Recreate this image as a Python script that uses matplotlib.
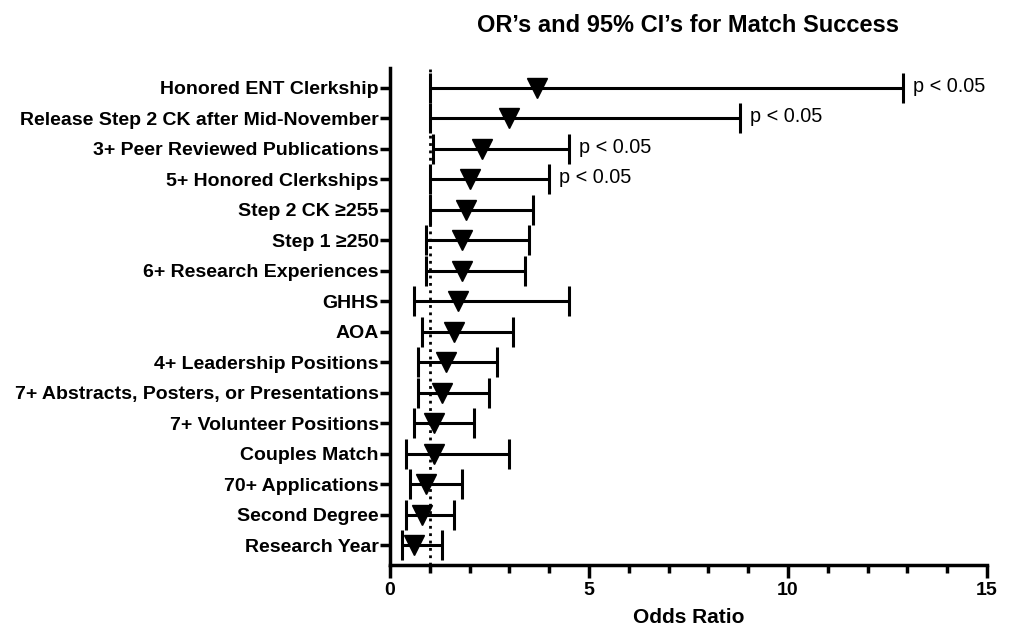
import matplotlib
matplotlib.use("Agg")
import matplotlib.pyplot as plt
import numpy as np

plt.rcParams["font.family"] = ["Liberation Sans", "DejaVu Sans"]

# factors, top to bottom
factors = [
    "Honored ENT Clerkship",
    "Release Step 2 CK after Mid-November",
    "3+ Peer Reviewed Publications",
    "5+ Honored Clerkships",
    "Step 2 CK \u2265255",
    "Step 1 \u2265250",
    "6+ Research Experiences",
    "GHHS",
    "AOA",
    "4+ Leadership Positions",
    "7+ Abstracts, Posters, or Presentations",
    "7+ Volunteer Positions",
    "Couples Match",
    "70+ Applications",
    "Second Degree",
    "Research Year",
]
odds_ratio = [3.7, 3.0, 2.3, 2.0, 1.9, 1.8, 1.8, 1.7, 1.6, 1.4, 1.3, 1.1, 1.1, 0.9, 0.8, 0.6]
ci_low = [1.0, 1.0, 1.08, 1.0, 1.0, 0.9, 0.9, 0.6, 0.8, 0.7, 0.7, 0.6, 0.4, 0.5, 0.4, 0.3]
ci_high = [12.9, 8.8, 4.5, 4.0, 3.6, 3.5, 3.4, 4.5, 3.1, 2.7, 2.5, 2.1, 3.0, 1.8, 1.6, 1.3]
significant = [True, True, True, True] + [False] * 12

fig = plt.figure(figsize=(10.09, 6.29), dpi=100)
ax = fig.add_axes([0.3865, 0.1017, 0.5917, 0.7903])

y = np.arange(len(factors))
or_arr = np.array(odds_ratio)
err = [or_arr - np.array(ci_low), np.array(ci_high) - or_arr]

ax.errorbar(odds_ratio, y, xerr=err, fmt="none", ecolor="black",
            elinewidth=2.2, capsize=11, capthick=2.2, zorder=2)
ax.plot(odds_ratio, y, "v", color="black", markersize=14.5, zorder=3)

ax.axvline(1, color="black", linestyle=":", linewidth=2, zorder=1)

for yi, hi, sig in zip(y, ci_high, significant):
    if sig:
        ax.annotate("p < 0.05", (hi, yi), xytext=(7, 1), textcoords="offset points",
                    va="center", ha="left", fontsize=14.3)

ax.set_xlim(0, 15)
ax.set_ylim(len(factors) - 0.35, -0.65)
ax.set_yticks(y)
ax.set_yticklabels(factors, fontsize=14, fontweight="bold")
ax.set_xticks([0, 5, 10, 15])
ax.set_xticks(np.arange(0, 16, 1), minor=True)
ax.set_xticklabels(["0", "5", "10", "15"], fontsize=14, fontweight="bold")

ax.spines["top"].set_visible(False)
ax.spines["right"].set_visible(False)
ax.spines["left"].set_linewidth(2.5)
ax.spines["bottom"].set_linewidth(2.5)
ax.tick_params(axis="x", which="major", length=9, width=2.5, pad=3)
ax.tick_params(axis="x", which="minor", length=6, width=2.5)
ax.tick_params(axis="y", length=7, width=2.5, pad=1)

ax.set_xlabel("Odds Ratio", fontsize=15, fontweight="bold", labelpad=7)
ax.set_title("OR\u2019s and 95% CI\u2019s for Match Success", fontsize=17,
             fontweight="bold", pad=26)

fig.savefig("out.png", dpi=100)
